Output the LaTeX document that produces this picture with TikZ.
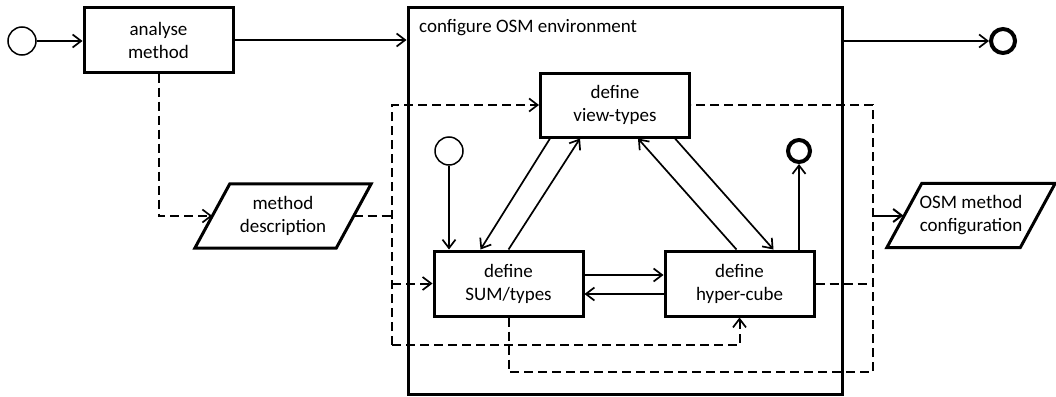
\documentclass[tikz,border=0pt]{standalone}
\usepackage{fontspec}
\setmainfont{Carlito}
\usetikzlibrary{arrows.meta,calc}
\begin{document}
\begin{tikzpicture}[x=1pt,y=-1pt,
  every node/.style={font=\fontsize{19}{23}\selectfont},
  task/.style={draw,line width=3pt,minimum width=149pt,minimum height=64pt,
    inner sep=0pt,align=center},
  startev/.style={draw,circle,line width=1.5pt,minimum size=28pt,inner sep=0pt},
  endev/.style={draw,circle,line width=4pt,minimum size=24pt,inner sep=0pt},
  anchorbox/.style={inner sep=0pt,minimum height=64pt,align=center},
  flow/.style={line width=1.7pt,-{Straight Barb[length=8.5pt,width=13pt]}},
  dataflow/.style={line width=2pt,dash pattern=on 9pt off 5pt},
  dataarrow/.style={dataflow,-{Straight Barb[length=8.5pt,width=13pt,line width=1.7pt]}},
  datashape/.style={draw,line width=3pt,line join=miter}]
\useasboundingbox (0,0) rectangle (1056,396);

% outer process steps
\node[startev] (s0) at (22,41) {};
\node[task] (am) at (158.5,40) {analyse\\method};
\node[draw,line width=3pt,minimum width=434pt,minimum height=386pt,inner sep=0pt]
  (env) at (625,201) {};
\node[anchor=west,inner sep=0pt] (envlabel) at (419,28) {configure OSM environment};
\node[endev] (e0) at (1003,41) {};

% data objects (parallelograms drawn round invisible anchor boxes)
\node[anchorbox,minimum width=141pt] (md) at (283,216) {method\\description};
\draw[datashape] ($(md.north west)+(17.5,0)$) -- ($(md.north east)+(17.5,0)$)
  -- ($(md.south east)+(-17.5,0)$) -- ($(md.south west)+(-17.5,0)$) -- cycle;
\node[anchorbox,minimum width=133pt] (omc) at (971,215.5) {OSM method\\configuration};
\draw[datashape] ($(omc.north west)+(17.5,0)$) -- ($(omc.north east)+(17.5,0)$)
  -- ($(omc.south east)+(-17.5,0)$) -- ($(omc.south west)+(-17.5,0)$) -- cycle;

% inner steps
\node[task] (vt) at (615,105) {define\\view-types};
\node[task,minimum height=65pt] (st) at (508.5,283.5) {define\\SUM/types};
\node[task,minimum height=65pt] (hc) at (739.5,283.5) {define\\hyper-cube};
\node[startev] (s1) at (449,151) {};
\node[endev,minimum size=22pt] (e1) at (799,151) {};

% bus coordinates for the data flows
\coordinate (busl) at (392,345);
\coordinate (busr) at (873,372);

% control flow, outer level
\draw[flow] (s0) -- (s0 -| am.west);
\draw[flow] (am.east) -- (am.east -| env.west);
\draw[flow] (env.east |- e0) -- (e0);

% control flow, inner level
\draw[flow] (s1) -- (s1 |- st.north);
\draw[flow] (e1 |- hc.north) -- (e1);
\draw[flow] ($(vt.south west)+(11,0)$) -- ($(st.north west)+(48,0)$);
\draw[flow] ($(st.north west)+(76,0)$) -- ($(vt.south west)+(41,0)$);
\draw[flow] ($(hc.north west)+(73,0)$) -- ($(vt.south west)+(99,0)$);
\draw[flow] ($(vt.south west)+(136,0)$) -- ($(hc.north west)+(110,0)$);
\draw[flow] ($(st.east)+(0,-8.5)$) -- ($(hc.west)+(0,-8.5)$);
\draw[flow] ($(hc.west)+(0,10.5)$) -- ($(st.east)+(0,10.5)$);

% data flow
\draw[dataarrow] (am.south) |- (md.west);
\draw[dataflow] (md.east) -- (md.east -| busl);
\draw[dataarrow] (busl) |- (vt.west);
\draw[dataarrow] (busl) -| (hc.south);
\draw[dataarrow] (st.west -| busl) -- (st.west);
\draw[dataflow] (st.south) |- (busr) |- (vt.east);
\draw[dataflow] (hc.east) -- (hc.east -| busr);
\draw[flow,line width=2pt] (omc.west -| busr) -- ($(omc.west)+(-1,0)$);
\end{tikzpicture}
\end{document}
